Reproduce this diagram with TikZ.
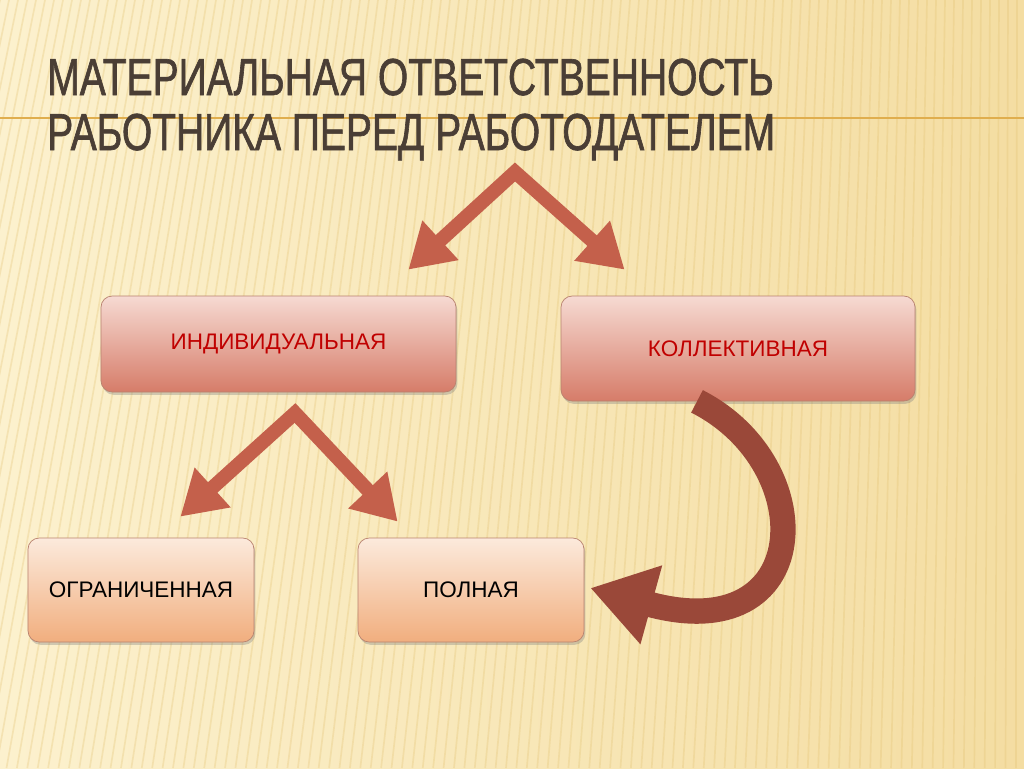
\documentclass[tikz,border=0pt]{standalone}
\usepackage{fontspec}
\setmainfont{Liberation Sans}
\newfontfamily\titlefont[FakeStretch=0.75,FakeBold=1.2]{Liberation Sans}
\usetikzlibrary{arrows.meta,shadows,calc}

\definecolor{bgleft}{HTML}{FCF1CE}
\definecolor{bgright}{HTML}{F4DDA2}
\definecolor{stripecol}{HTML}{E3C272}
\definecolor{titlecol}{HTML}{4A3E35}
\definecolor{rulecol}{HTML}{E0AE4E}
\definecolor{arrowred}{HTML}{C4604B}
\definecolor{ribboncol}{HTML}{9A4839}
\definecolor{redtop}{HTML}{F6DAD2}
\definecolor{redbot}{HTML}{D67C69}
\definecolor{redtext}{HTML}{C00000}
\definecolor{peachtop}{HTML}{FCEADC}
\definecolor{peachbot}{HTML}{F1AE7E}
\definecolor{boxedge}{HTML}{B8826F}

\begin{document}
\begin{tikzpicture}[x=0.25mm,y=-0.25mm,
  redbox/.style={draw=boxedge,line width=0.5pt,rounded corners=8pt,top color=redtop,bottom color=redbot,
    text=redtext,font=\fontsize{16}{18}\selectfont,
    drop shadow={opacity=0.35,shadow xshift=1pt,shadow yshift=-2pt}},
  peachbox/.style={draw=boxedge,line width=0.5pt,rounded corners=8pt,top color=peachtop,bottom color=peachbot,
    text=black,font=\fontsize{16}{18}\selectfont,
    drop shadow={opacity=0.35,shadow xshift=1pt,shadow yshift=-2pt}},
  chevron/.style={draw=arrowred,line width=10pt,line join=miter,miter limit=10,
    {Triangle[width=36pt,length=31pt]}-{Triangle[width=36pt,length=31pt]}},
  curvedarrow/.style={draw=ribboncol,line width=18pt,-{Triangle[width=55pt,length=45pt]}},
  stripe/.style={draw=stripecol,line width=1.2pt,opacity=0.3}]

% background
\useasboundingbox (0,0) rectangle (1024,768);
\shade[left color=bgleft,right color=bgright] (0,0) rectangle (1024,768);
\foreach \i in {0,9,...,1200}
  \draw[stripe] (\i,0) -- ({\i-160+160*(min(\i,1024)/1024)},768);
\draw[rulecol,line width=1.2pt] (0,118) -- (1024,118);

% title
\node[anchor=base west,text=titlecol,font=\titlefont\fontsize{37}{40}\selectfont,inner sep=0pt] (title1) at (47,95) {МАТЕРИАЛЬНАЯ ОТВЕТСТВЕННОСТЬ};
\node[anchor=base west,text=titlecol,font=\titlefont\fontsize{37}{40}\selectfont,inner sep=0pt] (title2) at (47,150) {РАБОТНИКА ПЕРЕД РАБОТОДАТЕЛЕМ};

% boxes
\node[redbox,minimum width=88.75mm,minimum height=24mm] (ind) at (278.5,344) {ИНДИВИДУАЛЬНАЯ};
\node[redbox,minimum width=88.5mm,minimum height=26.25mm] (kol) at (738,348.5) {КОЛЛЕКТИВНАЯ};
\node[peachbox,minimum width=56.5mm,minimum height=26mm] (ogr) at (141,590) {ОГРАНИЧЕННАЯ};
\node[peachbox,minimum width=56.5mm,minimum height=26mm] (pol) at (471,590) {ПОЛНАЯ};

% arrows
\coordinate (apexA) at (515,172);
\coordinate (apexB) at (295,413);
\draw[chevron] ($(ind.north east)+(-48,-26)$) -- (apexA) -- ($(kol.north west)+(64,-26)$);
\draw[chevron] ($(ogr.north east)+(-74,-21)$) -- (apexB) -- ($(pol.north west)+(40,-16)$);
\draw[curvedarrow] ($(kol.south)+(-41,0)$) .. controls (822,465) and (815,650) .. ($(pol.east)+(6,-2)$);
\end{tikzpicture}
\end{document}
